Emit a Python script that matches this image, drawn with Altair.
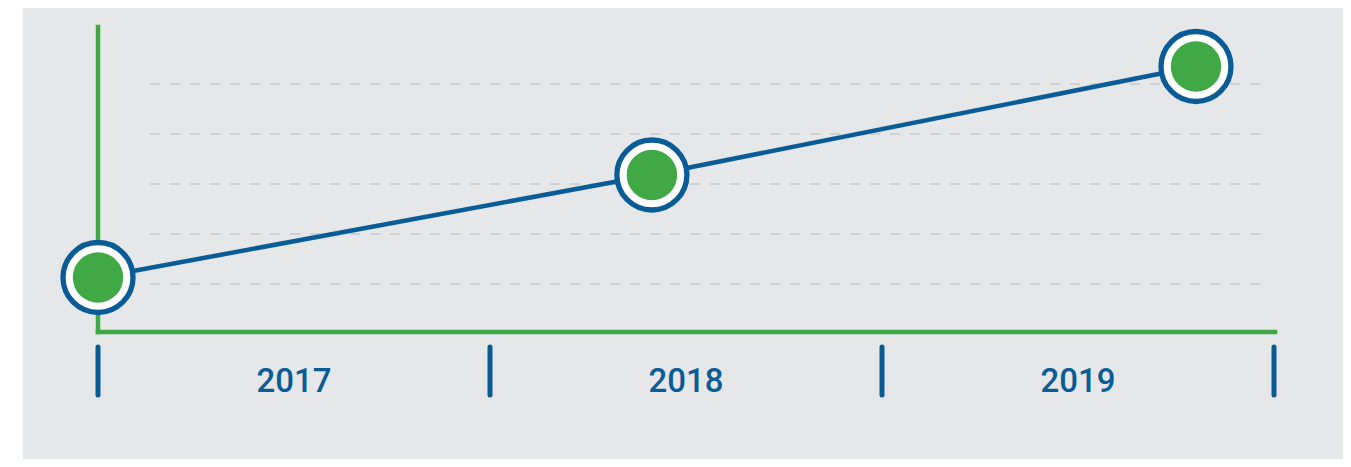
import altair as alt
import pandas as pd

# ---- data ----
years = ["2017", "2018", "2019"]
year_pos = [0.5, 1.5, 2.5]          # label centre on the band axis
tick_pos = [0, 1, 2, 3]             # band separators
point_x = [0.0, 1.413, 2.801]
point_y = [1.13, 3.18, 5.35]
grid_y = [1, 2, 3, 4, 5]

BLUE = "#0a5c97"
GREEN = "#41a846"
GRAY_BG = "#e6e7e9"
GRID = "#b9babc"

W, H = 1176, 305
xs = alt.Scale(domain=[0, 3], nice=False, zero=False)
ys = alt.Scale(domain=[0.04, 6.14], nice=False, zero=False)

one = pd.DataFrame({"a": [0]})
pts = pd.DataFrame({"x": point_x, "y": point_y})
grid = pd.DataFrame({"y": grid_y})
ticks = pd.DataFrame({"x": tick_pos})
labels = pd.DataFrame({"x": year_pos, "t": years})

white_strip = alt.Chart(one).mark_rect(color="white").encode(
    x=alt.value(-90), x2=alt.value(-75), y=alt.value(-19), y2=alt.value(440)
)

gridlines = alt.Chart(grid).mark_rule(
    color=GRID, strokeWidth=1.2, strokeDash=[10, 10]
).encode(
    y=alt.Y("y:Q", scale=ys, axis=None),
    x=alt.value(52), x2=alt.value(1167),
)

y_axis = alt.Chart(one).mark_rule(color=GREEN, strokeWidth=4.5, strokeCap="square").encode(
    x=alt.value(0), y=alt.value(0), y2=alt.value(305)
)
x_axis = alt.Chart(one).mark_rule(color=GREEN, strokeWidth=4.5, strokeCap="square").encode(
    x=alt.value(0), x2=alt.value(1177), y=alt.value(305)
)

tick_marks = alt.Chart(ticks).mark_rule(color=BLUE, strokeWidth=5, strokeCap="round").encode(
    x=alt.X("x:Q", scale=xs, axis=None),
    y=alt.value(320), y2=alt.value(368),
)

label_text = alt.Chart(labels).mark_text(
    color=BLUE, font="Roboto", fontSize=33, fontWeight=500, baseline="middle", align="center"
).encode(
    x=alt.X("x:Q", scale=xs, axis=None),
    y=alt.value(355),
    text="t:N",
)

line = alt.Chart(pts).mark_line(color=BLUE, strokeWidth=4.5).encode(
    x=alt.X("x:Q", scale=xs, axis=None),
    y=alt.Y("y:Q", scale=ys, axis=None),
)

outer = alt.Chart(pts).mark_point(
    shape="circle", filled=True, fill="white", stroke=BLUE, strokeWidth=5.3,
    size=4900, opacity=1
).encode(
    x=alt.X("x:Q", scale=xs, axis=None),
    y=alt.Y("y:Q", scale=ys, axis=None),
)

inner = alt.Chart(pts).mark_point(
    shape="circle", filled=True, fill=GREEN, strokeWidth=0, size=2550, opacity=1
).encode(
    x=alt.X("x:Q", scale=xs, axis=None),
    y=alt.Y("y:Q", scale=ys, axis=None),
)

chart = alt.layer(
    white_strip, gridlines, y_axis, x_axis, tick_marks, label_text, line, outer, inner
).properties(
    width=W, height=H,
    autosize=alt.AutoSizeParams(type="none"),
    padding={"left": 90, "top": 19, "right": 69, "bottom": 127},
    background=GRAY_BG,
).configure_view(stroke=None)

chart.save("out.html", embed_options={"renderer": "svg", "actions": False})
